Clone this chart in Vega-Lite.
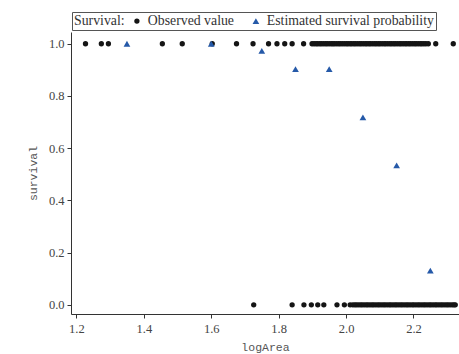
{
  "$schema": "https://vega.github.io/schema/vega-lite/v6.json",
  "autosize": "none",
  "width": 388,
  "height": 282,
  "padding": {"left": 71, "top": 32, "right": 0, "bottom": 40},
  "background": "white",
  "config": {
    "view": {"stroke": null},
    "axis": {
      "grid": false,
      "domainColor": "#333",
      "tickColor": "#333",
      "tickSize": 4,
      "labelFont": "Liberation Serif",
      "labelFontSize": 12.5,
      "labelColor": "#444",
      "titleFont": "Liberation Mono",
      "titleFontSize": 11.5,
      "titleFontWeight": "normal",
      "titleColor": "#555"
    }
  },
  "data": {
    "values": [
      {"logArea": 1.227, "survival": 1, "type": "Observed value"},
      {"logArea": 1.274, "survival": 1, "type": "Observed value"},
      {"logArea": 1.295, "survival": 1, "type": "Observed value"},
      {"logArea": 1.455, "survival": 1, "type": "Observed value"},
      {"logArea": 1.514, "survival": 1, "type": "Observed value"},
      {"logArea": 1.603, "survival": 1, "type": "Observed value"},
      {"logArea": 1.675, "survival": 1, "type": "Observed value"},
      {"logArea": 1.724, "survival": 1, "type": "Observed value"},
      {"logArea": 1.770, "survival": 1, "type": "Observed value"},
      {"logArea": 1.795, "survival": 1, "type": "Observed value"},
      {"logArea": 1.818, "survival": 1, "type": "Observed value"},
      {"logArea": 1.840, "survival": 1, "type": "Observed value"},
      {"logArea": 1.874, "survival": 1, "type": "Observed value"},
      {"logArea": 1.899, "survival": 1, "type": "Observed value"},
      {"logArea": 1.905, "survival": 1, "type": "Observed value"},
      {"logArea": 1.911, "survival": 1, "type": "Observed value"},
      {"logArea": 1.916, "survival": 1, "type": "Observed value"},
      {"logArea": 1.922, "survival": 1, "type": "Observed value"},
      {"logArea": 1.927, "survival": 1, "type": "Observed value"},
      {"logArea": 1.933, "survival": 1, "type": "Observed value"},
      {"logArea": 1.939, "survival": 1, "type": "Observed value"},
      {"logArea": 1.944, "survival": 1, "type": "Observed value"},
      {"logArea": 1.950, "survival": 1, "type": "Observed value"},
      {"logArea": 1.956, "survival": 1, "type": "Observed value"},
      {"logArea": 1.961, "survival": 1, "type": "Observed value"},
      {"logArea": 1.966, "survival": 1, "type": "Observed value"},
      {"logArea": 1.972, "survival": 1, "type": "Observed value"},
      {"logArea": 1.978, "survival": 1, "type": "Observed value"},
      {"logArea": 1.983, "survival": 1, "type": "Observed value"},
      {"logArea": 1.989, "survival": 1, "type": "Observed value"},
      {"logArea": 1.995, "survival": 1, "type": "Observed value"},
      {"logArea": 2.001, "survival": 1, "type": "Observed value"},
      {"logArea": 2.006, "survival": 1, "type": "Observed value"},
      {"logArea": 2.012, "survival": 1, "type": "Observed value"},
      {"logArea": 2.017, "survival": 1, "type": "Observed value"},
      {"logArea": 2.023, "survival": 1, "type": "Observed value"},
      {"logArea": 2.028, "survival": 1, "type": "Observed value"},
      {"logArea": 2.034, "survival": 1, "type": "Observed value"},
      {"logArea": 2.040, "survival": 1, "type": "Observed value"},
      {"logArea": 2.045, "survival": 1, "type": "Observed value"},
      {"logArea": 2.051, "survival": 1, "type": "Observed value"},
      {"logArea": 2.057, "survival": 1, "type": "Observed value"},
      {"logArea": 2.062, "survival": 1, "type": "Observed value"},
      {"logArea": 2.068, "survival": 1, "type": "Observed value"},
      {"logArea": 2.073, "survival": 1, "type": "Observed value"},
      {"logArea": 2.079, "survival": 1, "type": "Observed value"},
      {"logArea": 2.085, "survival": 1, "type": "Observed value"},
      {"logArea": 2.090, "survival": 1, "type": "Observed value"},
      {"logArea": 2.096, "survival": 1, "type": "Observed value"},
      {"logArea": 2.101, "survival": 1, "type": "Observed value"},
      {"logArea": 2.107, "survival": 1, "type": "Observed value"},
      {"logArea": 2.113, "survival": 1, "type": "Observed value"},
      {"logArea": 2.118, "survival": 1, "type": "Observed value"},
      {"logArea": 2.124, "survival": 1, "type": "Observed value"},
      {"logArea": 2.130, "survival": 1, "type": "Observed value"},
      {"logArea": 2.135, "survival": 1, "type": "Observed value"},
      {"logArea": 2.141, "survival": 1, "type": "Observed value"},
      {"logArea": 2.146, "survival": 1, "type": "Observed value"},
      {"logArea": 2.152, "survival": 1, "type": "Observed value"},
      {"logArea": 2.158, "survival": 1, "type": "Observed value"},
      {"logArea": 2.163, "survival": 1, "type": "Observed value"},
      {"logArea": 2.169, "survival": 1, "type": "Observed value"},
      {"logArea": 2.175, "survival": 1, "type": "Observed value"},
      {"logArea": 2.180, "survival": 1, "type": "Observed value"},
      {"logArea": 2.186, "survival": 1, "type": "Observed value"},
      {"logArea": 2.191, "survival": 1, "type": "Observed value"},
      {"logArea": 2.197, "survival": 1, "type": "Observed value"},
      {"logArea": 2.203, "survival": 1, "type": "Observed value"},
      {"logArea": 2.208, "survival": 1, "type": "Observed value"},
      {"logArea": 2.214, "survival": 1, "type": "Observed value"},
      {"logArea": 2.220, "survival": 1, "type": "Observed value"},
      {"logArea": 2.225, "survival": 1, "type": "Observed value"},
      {"logArea": 2.231, "survival": 1, "type": "Observed value"},
      {"logArea": 2.237, "survival": 1, "type": "Observed value"},
      {"logArea": 2.244, "survival": 1, "type": "Observed value"},
      {"logArea": 2.266, "survival": 1, "type": "Observed value"},
      {"logArea": 2.318, "survival": 1, "type": "Observed value"},
      {"logArea": 1.726, "survival": 0, "type": "Observed value"},
      {"logArea": 1.840, "survival": 0, "type": "Observed value"},
      {"logArea": 1.875, "survival": 0, "type": "Observed value"},
      {"logArea": 1.897, "survival": 0, "type": "Observed value"},
      {"logArea": 1.916, "survival": 0, "type": "Observed value"},
      {"logArea": 1.934, "survival": 0, "type": "Observed value"},
      {"logArea": 1.973, "survival": 0, "type": "Observed value"},
      {"logArea": 1.995, "survival": 0, "type": "Observed value"},
      {"logArea": 2.012, "survival": 0, "type": "Observed value"},
      {"logArea": 2.020, "survival": 0, "type": "Observed value"},
      {"logArea": 2.026, "survival": 0, "type": "Observed value"},
      {"logArea": 2.031, "survival": 0, "type": "Observed value"},
      {"logArea": 2.037, "survival": 0, "type": "Observed value"},
      {"logArea": 2.043, "survival": 0, "type": "Observed value"},
      {"logArea": 2.048, "survival": 0, "type": "Observed value"},
      {"logArea": 2.054, "survival": 0, "type": "Observed value"},
      {"logArea": 2.060, "survival": 0, "type": "Observed value"},
      {"logArea": 2.065, "survival": 0, "type": "Observed value"},
      {"logArea": 2.071, "survival": 0, "type": "Observed value"},
      {"logArea": 2.077, "survival": 0, "type": "Observed value"},
      {"logArea": 2.082, "survival": 0, "type": "Observed value"},
      {"logArea": 2.088, "survival": 0, "type": "Observed value"},
      {"logArea": 2.094, "survival": 0, "type": "Observed value"},
      {"logArea": 2.099, "survival": 0, "type": "Observed value"},
      {"logArea": 2.105, "survival": 0, "type": "Observed value"},
      {"logArea": 2.111, "survival": 0, "type": "Observed value"},
      {"logArea": 2.116, "survival": 0, "type": "Observed value"},
      {"logArea": 2.122, "survival": 0, "type": "Observed value"},
      {"logArea": 2.128, "survival": 0, "type": "Observed value"},
      {"logArea": 2.133, "survival": 0, "type": "Observed value"},
      {"logArea": 2.139, "survival": 0, "type": "Observed value"},
      {"logArea": 2.145, "survival": 0, "type": "Observed value"},
      {"logArea": 2.150, "survival": 0, "type": "Observed value"},
      {"logArea": 2.156, "survival": 0, "type": "Observed value"},
      {"logArea": 2.162, "survival": 0, "type": "Observed value"},
      {"logArea": 2.167, "survival": 0, "type": "Observed value"},
      {"logArea": 2.173, "survival": 0, "type": "Observed value"},
      {"logArea": 2.179, "survival": 0, "type": "Observed value"},
      {"logArea": 2.184, "survival": 0, "type": "Observed value"},
      {"logArea": 2.190, "survival": 0, "type": "Observed value"},
      {"logArea": 2.196, "survival": 0, "type": "Observed value"},
      {"logArea": 2.201, "survival": 0, "type": "Observed value"},
      {"logArea": 2.207, "survival": 0, "type": "Observed value"},
      {"logArea": 2.213, "survival": 0, "type": "Observed value"},
      {"logArea": 2.218, "survival": 0, "type": "Observed value"},
      {"logArea": 2.224, "survival": 0, "type": "Observed value"},
      {"logArea": 2.230, "survival": 0, "type": "Observed value"},
      {"logArea": 2.235, "survival": 0, "type": "Observed value"},
      {"logArea": 2.241, "survival": 0, "type": "Observed value"},
      {"logArea": 2.247, "survival": 0, "type": "Observed value"},
      {"logArea": 2.252, "survival": 0, "type": "Observed value"},
      {"logArea": 2.258, "survival": 0, "type": "Observed value"},
      {"logArea": 2.264, "survival": 0, "type": "Observed value"},
      {"logArea": 2.269, "survival": 0, "type": "Observed value"},
      {"logArea": 2.275, "survival": 0, "type": "Observed value"},
      {"logArea": 2.281, "survival": 0, "type": "Observed value"},
      {"logArea": 2.286, "survival": 0, "type": "Observed value"},
      {"logArea": 2.292, "survival": 0, "type": "Observed value"},
      {"logArea": 2.298, "survival": 0, "type": "Observed value"},
      {"logArea": 2.303, "survival": 0, "type": "Observed value"},
      {"logArea": 2.309, "survival": 0, "type": "Observed value"},
      {"logArea": 2.315, "survival": 0, "type": "Observed value"},
      {"logArea": 2.320, "survival": 0, "type": "Observed value"},
      {"logArea": 2.324, "survival": 0, "type": "Observed value"},
      {"logArea": 1.35, "survival": 1.0, "type": "Estimated survival probability"},
      {"logArea": 1.60, "survival": 1.0, "type": "Estimated survival probability"},
      {"logArea": 1.75, "survival": 0.973, "type": "Estimated survival probability"},
      {"logArea": 1.85, "survival": 0.903, "type": "Estimated survival probability"},
      {"logArea": 1.95, "survival": 0.903, "type": "Estimated survival probability"},
      {"logArea": 2.05, "survival": 0.718, "type": "Estimated survival probability"},
      {"logArea": 2.15, "survival": 0.534, "type": "Estimated survival probability"},
      {"logArea": 2.25, "survival": 0.131, "type": "Estimated survival probability"}
    ]
  },
  "mark": {"type": "point", "filled": true, "opacity": 1},
  "encoding": {
    "x": {
      "field": "logArea", "type": "quantitative", "title": "logArea",
      "scale": {"domain": [1.184, 2.335], "nice": false, "zero": false},
      "axis": {"values": [1.2, 1.4, 1.6, 1.8, 2.0, 2.2], "format": ".1f", "labelPadding": 4, "titlePadding": 7}
    },
    "y": {
      "field": "survival", "type": "quantitative", "title": "survival",
      "scale": {"domain": [-0.035, 1.045], "nice": false, "zero": false},
      "axis": {"values": [0, 0.2, 0.4, 0.6, 0.8, 1.0], "format": ".1f", "labelPadding": 3, "titlePadding": 10}
    },
    "color": {
      "field": "type", "type": "nominal",
      "scale": {"domain": ["Observed value", "Estimated survival probability"], "range": ["#151515", "#2559a8"]},
      "legend": {
        "title": "Survival:",
        "orient": "none",
        "legendX": 1,
        "legendY": -20,
        "direction": "horizontal",
        "titleOrient": "left",
        "titleFont": "Liberation Serif",
        "titleFontSize": 13.8,
        "titleFontWeight": "normal",
        "titleColor": "#333",
        "titlePadding": 5,
        "labelFont": "Liberation Serif",
        "labelFontSize": 13.8,
        "labelColor": "#333",
        "labelLimit": 400,
        "labelOffset": 4,
        "columnPadding": 15,
        "symbolSize": 34,
        "strokeColor": "#555",
        "padding": 2
      }
    },
    "shape": {
      "field": "type", "type": "nominal",
      "scale": {"domain": ["Observed value", "Estimated survival probability"], "range": ["circle", "triangle-up"]},
      "legend": null
    },
    "size": {
      "field": "type", "type": "nominal",
      "scale": {"domain": ["Observed value", "Estimated survival probability"], "range": [28, 45]},
      "legend": null
    }
  }
}
